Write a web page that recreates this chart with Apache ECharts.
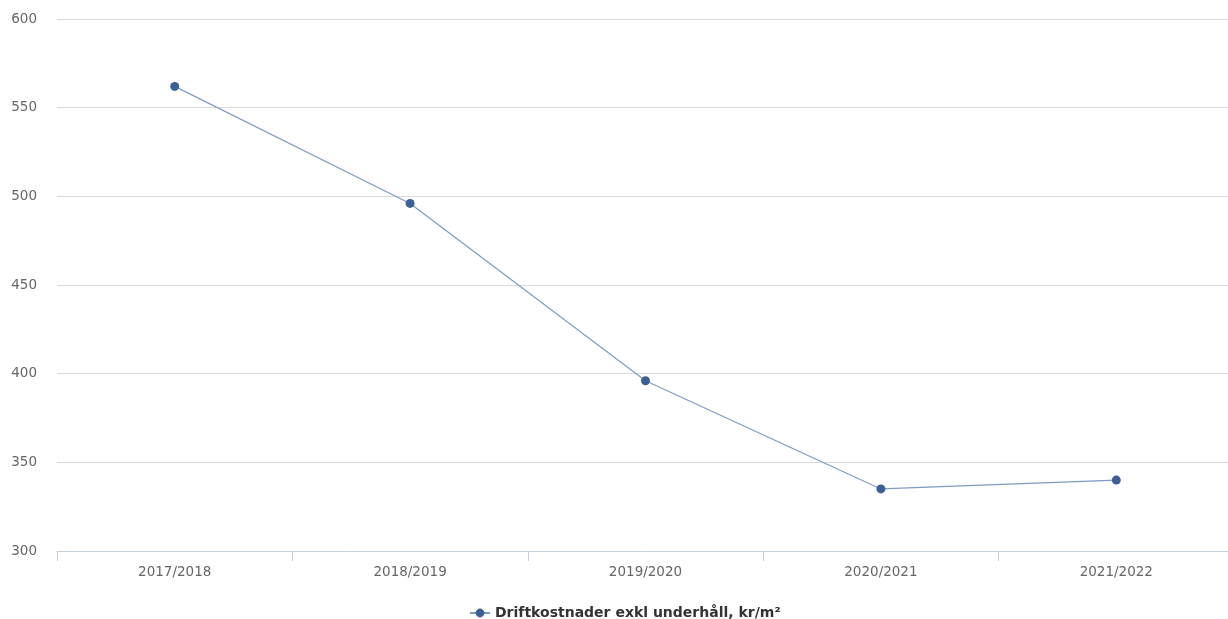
<!DOCTYPE html>
<html>
<head>
<meta charset="utf-8">
<script src="https://cdn.jsdelivr.net/npm/echarts@6/dist/echarts.min.js"></script>
<style>
  html, body { margin: 0; padding: 0; background: #fff; }
  #chart { width: 1228px; height: 619px; }
</style>
</head>
<body>
<div id="chart"></div>
<script>
const years = ['2017/2018', '2018/2019', '2019/2020', '2020/2021', '2021/2022'];
const costs = [562, 496, 396, 335, 340];
const seriesName = 'Driftkostnader exkl underhåll, kr/m²';

const lineColor = '#7f9cc0';
const dotColor = '#3b6093';

const chart = echarts.init(document.getElementById('chart'));
chart.setOption({
  animation: false,
  textStyle: { fontFamily: 'DejaVu Sans' },
  grid: { left: 57, right: -6, top: 19, bottom: 68, outerBoundsMode: 'none', containLabel: false },
  legend: {
    top: 601,
    left: 464,
    itemWidth: 20,
    itemHeight: 11,
    itemGap: 6,
    textStyle: { color: '#333', fontSize: 14, fontWeight: 'bold' },
    data: [seriesName]
  },
  xAxis: {
    type: 'category',
    data: years,
    boundaryGap: true,
    axisLine: { lineStyle: { color: '#c3d0e0' } },
    axisTick: { show: true, length: 10, lineStyle: { color: '#c3d0e0' } },
    axisLabel: { color: '#666', fontSize: 13.5, margin: 14 }
  },
  yAxis: {
    type: 'value',
    min: 300,
    max: 600,
    interval: 50,
    axisLine: { show: false },
    axisTick: { show: false },
    axisLabel: { color: '#666', fontSize: 13.5, margin: 20 },
    splitLine: { lineStyle: { color: '#dadada' } }
  },
  series: [{
    name: seriesName,
    type: 'line',
    data: costs,
    symbol: 'circle',
    symbolSize: 9,
    lineStyle: { color: lineColor, width: 1.2 },
    itemStyle: { color: dotColor }
  }]
});
</script>
</body>
</html>
